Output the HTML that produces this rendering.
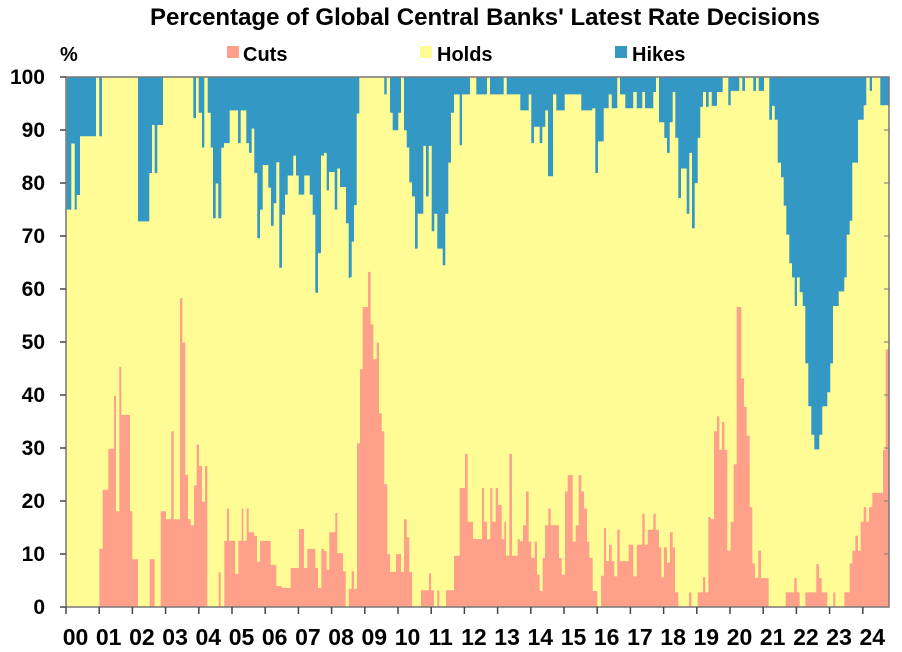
<!DOCTYPE html>
<html><head><meta charset="utf-8"><style>
body{margin:0;background:#fff;}
svg{display:block;font-family:"Liberation Sans",Arial,sans-serif;font-weight:bold;}
</style></head><body>
<svg id="s" width="902" height="652" viewBox="0 0 902 652">
<text x="485" y="25" font-size="24" text-anchor="middle">Percentage of Global Central Banks' Latest Rate Decisions</text>
<text x="60" y="61" font-size="20">%</text>
<rect x="227" y="46" width="12" height="12" fill="#FFA08A"/><text x="243" y="61" font-size="20">Cuts</text>
<rect x="420" y="46" width="12" height="12" fill="#FFFC96"/><text x="437" y="61" font-size="20">Holds</text>
<rect x="615" y="46" width="12" height="12" fill="#3399C4"/><text x="632" y="61" font-size="20">Hikes</text>
<rect x="66" y="77" width="823" height="530" fill="#FFFC96"/>
<g id="plot"></g>
<g id="ax"></g>
</svg>
<script>
var SX=[60,350,620];
function Y(z){return 77+(z-22)*530/1523;}
var cuts=[
[0,[[20,1545],[118,1378],[128,1208],[145,1090],[162,938],[168,1270],[178,855],[184,993],[210,1270],[217,1408],[234,1545],[269,1408],[284,1545],[302,1270],[318,1293],[334,1040],[341,1293],[360,658],[367,785],[376,1165],[384,1293],[392,1310],[402,1195],[410,1078],[417,1140],[426,1242],[435,1140],[442,1545],[476,1445],[482,1545],[493,1355],[501,1262],[507,1355],[526,1450],[535,1355],[545,1262],[550,1355],[560,1262],[566,1330],[583,1340],[591,1415],[600,1355],[632,1424],[649,1485],[666,1490],[692,1433],[717,1321],[732,1433],[742,1378],[766,1433],[774,1490],[784,1378],[792,1385],[800,1438],[808,1330],[826,1275],[832,1390],[849,1442],[857,1545],[866,1493]]],
[1,[[5,1442],[12,1493],[21,1075],[30,862],[38,683],[54,582],[62,733],[70,833],[80,785],[87,988],[95,1040],[103,1192],[112,1393],[120,1444],[138,1393],[153,1444],[162,1293],[170,1345],[178,1444],[186,1545],[213,1497],[237,1448],[243,1497],[252,1545],[262,1497],[268,1545],[288,1497],[312,1398],[329,1203],[345,1105],[353,1300],[369,1350],[396,1203],[402,1300],[411,1350],[421,1203],[427,1300],[437,1203],[444,1252],[455,1350],[463,1300],[468,1398],[478,1105],[486,1398],[503,1350],[509,1356],[519,1310],[528,1213],[536,1357],[544,1404],[554,1357],[561,1452],[569,1499],[578,1404],[585,1310],[595,1262],[602,1310],[627,1404],[635,1452],[645,1213],[653,1166],[668,1357],[677,1310],[686,1166],[694,1213],[702,1262],[711,1357],[718,1404],[728,1499],[742,1545],[753,1455],[762,1318],[768,1413],[777,1366],[785,1413],[793,1457],[802,1323],[809,1413]]],
[2,[[26,1366],[40,1457],[50,1366],[67,1277],[74,1366],[83,1323],[100,1277],[107,1323],[117,1374],[124,1460],[132,1374],[141,1418],[150,1330],[158,1374],[165,1503],[175,1545],[207,1503],[214,1545],[233,1503],[249,1460],[256,1503],[265,1287],[273,1293],[282,1040],[291,997],[298,1093],[306,1013],[313,1093],[322,1383],[332,1300],[341,1135],[350,683],[364,888],[372,970],[380,1053],[389,1258],[397,1420],[405,1462],[415,1383],[423,1462],[446,1545],[497,1503],[523,1462],[530,1503],[539,1545],[556,1503],[589,1422],[597,1462],[605,1503],[622,1545],[640,1503],[646,1545],[673,1503],[689,1420],[697,1383],[706,1340],[714,1383],[722,1300],[731,1258],[739,1300],[747,1258],[757,1217],[789,1093],[797,805],[805,805]]]];
var hikes=[
[0,[[20,403],[34,213],[44,403],[50,361],[60,192],[108,22],[118,192],[126,22],[234,437],[268,298],[276,160],[284,298],[292,160],[309,22],[400,140],[408,22],[416,125],[426,225],[433,22],[443,125],[452,225],[459,428],[467,328],[475,428],[484,225],[492,212],[509,118],[534,212],[542,118],[559,212],[567,240],[575,170],[583,298],[592,485],[600,403],[608,275],[625,340],[633,450],[641,385],[649,267],[658,570],[666,418],[675,360],[683,305],[700,248],[708,305],[716,360],[733,305],[749,360],[758,418],[766,642],[774,528],[783,248],[792,240],[800,348],[807,295],[824,403],[832,285],[840,338],[858,442],[866,600]]],
[1,[[0,597],[5,495],[12,390],[20,127],[28,22],[103,72],[110,22],[120,125],[128,175],[145,125],[153,22],[162,175],[170,225],[178,325],[186,365],[195,515],[203,415],[220,220],[228,365],[236,220],[245,465],[253,415],[262,515],[278,563],[286,415],[295,268],[303,125],[312,72],[329,218],[336,72],[360,22],[379,72],[411,22],[420,72],[461,22],[470,72],[511,118],[536,72],[544,212],[552,165],[569,212],[577,165],[586,118],[594,307],[609,72],[619,118],[644,72],[694,118],[727,112],[736,298],[744,207],[761,112],[776,72],[785,112],[802,22],[810,72],[826,112]]],
[2,[[26,112],[40,65],[50,112],[67,65],[75,112],[100,65],[108,22],[117,152],[133,197],[141,240],[149,152],[158,65],[166,197],[175,370],[183,285],[200,415],[208,240],[216,457],[224,327],[233,197],[241,108],[249,65],[258,108],[266,65],[275,105],[291,65],[308,22],[325,103],[332,62],[358,22],[367,62],[375,22],[400,62],[408,22],[416,62],[432,22],[448,145],[456,105],[464,145],[473,268],[483,310],[491,392],[499,475],[508,557],[516,598],[524,680],[531,598],[539,640],[548,680],[556,845],[565,968],[574,1050],[583,1092],[598,1050],[607,968],[622,928],[631,845],[639,680],[656,638],[673,598],[680,475],[689,435],[697,268],[714,145],[731,103],[739,22],[749,62],[756,22],[781,103],[805,103]]]];
function flat(a){var o=[];a.forEach(function(g){g[1].forEach(function(p){o.push([SX[g[0]]+p[0]/3,Y(p[1])]);});});return o;}
function path(pts,base){var d="M"+pts[0][0].toFixed(1)+","+base;for(var i=0;i<pts.length;i++){var x=pts[i][0];if(x>889)x=889;d+="L"+x.toFixed(1)+","+pts[i][1].toFixed(1);var nx=i+1<pts.length?pts[i+1][0]:889;if(nx>889)nx=889;d+="L"+nx.toFixed(1)+","+pts[i][1].toFixed(1);}d+="L889,"+base+"Z";return d;}
var ns="http://www.w3.org/2000/svg",pl=document.getElementById("plot"),ax=document.getElementById("ax");
function el(t,a,p){var e=document.createElementNS(ns,t);for(var k in a)e.setAttribute(k,a[k]);(p||pl).appendChild(e);return e;}
el("path",{d:path(flat(cuts),607),fill:"#FFA08A"});
el("path",{d:path(flat(hikes),77),fill:"#3399C4"});
el("rect",{x:66,y:77,width:823,height:530,fill:"none",stroke:"#777","stroke-width":1.5},ax);
for(var v=0;v<=100;v+=10){var y=607-v*5.3;el("line",{x1:60,x2:66,y1:y,y2:y,stroke:"#444","stroke-width":1.5},ax);el("line",{x1:884,x2:889,y1:y,y2:y,stroke:"#777","stroke-width":1},ax);var t=el("text",{x:45,y:y+7,"font-size":21,"text-anchor":"end"},ax);t.textContent=v;}
for(var k=0;k<=24;k++){var x=66+k*33.2;el("line",{x1:x,x2:x,y1:607,y2:614,stroke:"#444","stroke-width":1.5},ax);var t=el("text",{x:x+9.5,y:645,"font-size":23,"text-anchor":"middle"},ax);t.textContent=(k<10?"0":"")+k;}
</script>
</body></html>
